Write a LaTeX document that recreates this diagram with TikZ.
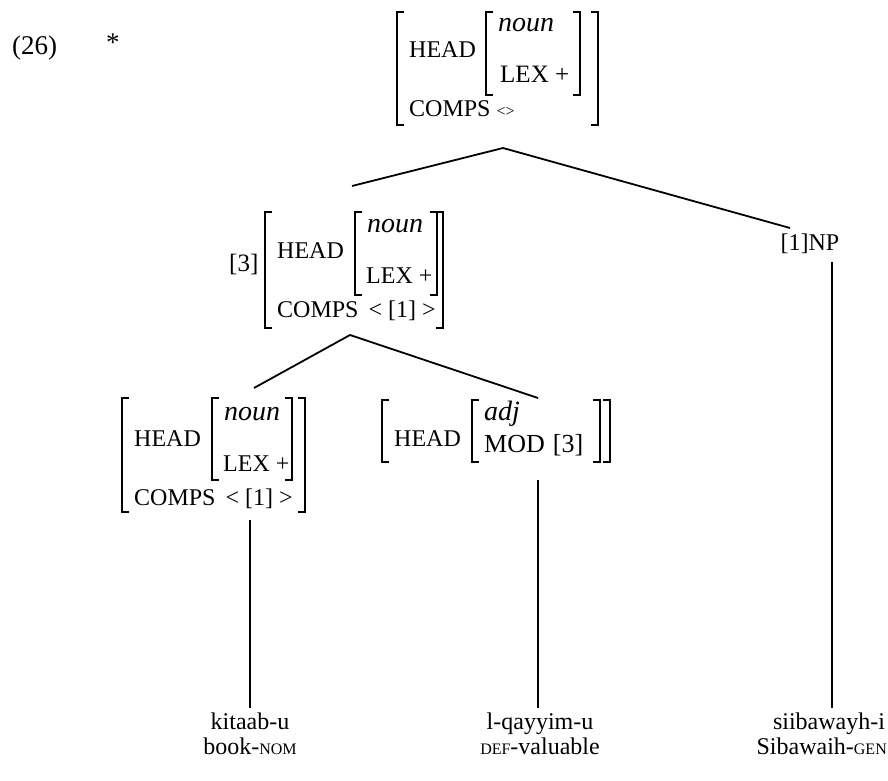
\documentclass[tikz,border=0pt]{standalone}
\usepackage{fontspec}
\setmainfont{Liberation Serif}
\newcommand\avmL[3]{\draw[brk] (#1+7,#2) -- (#1,#2) -- (#1,#3) -- (#1+7,#3);}
\newcommand\avmR[3]{\draw[brk] (#1-7,#2) -- (#1,#2) -- (#1,#3) -- (#1-7,#3);}
\newcommand\smc[1]{{\fontsize{16}{19}\selectfont #1}}
\newcommand\ital[1]{{\fontsize{28}{30}\selectfont\itshape #1}}
\begin{document}
\begin{tikzpicture}[x=1pt,y=-1pt,
  txt/.style={inner sep=0pt, anchor=base west, font=\fontsize{24}{28}\selectfont},
  ctr/.style={inner sep=0pt, anchor=base, font=\fontsize{24}{28}\selectfont},
  brk/.style={line width=1.2pt},
  edge/.style={line width=1.8pt}]
\useasboundingbox (0,0) rectangle (888,781);
% label
\node[txt, font=\fontsize{27}{30}\selectfont] (num) at (12,55) {(26)};
\node[txt, font=\fontsize{27}{30}\selectfont] (star) at (106,52) {*};
% top AVM
\avmL{397}{12}{125}
\node[txt] (h0) at (409,58) {HEAD};
\avmL{486}{12}{95}
\node[txt] (n0) at (498,32) {\ital{noun}};
\node[txt, font=\fontsize{25}{28}\selectfont] (l0) at (500,83) {LEX +};
\avmR{580}{12}{95}
\avmR{598}{12}{125}
\node[txt] (c0) at (409,117) {COMPS \smc{<>}};
% middle AVM
\node[txt, font=\fontsize{25}{28}\selectfont] (tag3) at (229,271) {[3]};
\avmL{265}{212}{328}
\node[txt] (h1) at (277,258) {HEAD};
\avmL{355}{212}{295}
\node[txt] (n1) at (367,232) {\ital{noun}};
\node[txt] (l1) at (366,283) {LEX +};
\avmR{437}{212}{295}
\avmR{443}{212}{328}
\node[txt] (c1) at (277,317) {COMPS \,< [1] >};
% NP
\node[ctr] (np) at (810,250) {[1]NP};
% bottom-left AVM
\avmL{122}{398}{512}
\node[txt] (h2) at (134,446) {HEAD};
\avmL{212}{398}{480}
\node[txt] (n2) at (224,420) {\ital{noun}};
\node[txt] (l2) at (223,471) {LEX +};
\avmR{292}{398}{480}
\avmR{305}{398}{512}
\node[txt] (c2) at (134,505) {COMPS \,< [1] >};
% bottom-middle AVM
\avmL{382}{400}{462}
\node[txt] (h3) at (394,446) {HEAD};
\avmL{472}{400}{462}
\node[txt] (n3) at (484,420) {\ital{adj}};
\node[txt, font=\fontsize{26}{28}\selectfont] (m3) at (484,452) {MOD\hspace{8pt}[3]};
\avmR{600}{400}{462}
\avmR{610}{400}{462}
% words
\node[ctr] (w1) at (250,729) {kitaab-u};
\node[ctr] (g1) at (250,754) {book-\smc{NOM}};
\node[ctr] (w2) at (540,729) {l-qayyim-u};
\node[ctr] (g2) at (540,754) {\smc{DEF}-valuable};
\node[ctr] (w3) at (829,729) {siibawayh-i};
\node[ctr, anchor=base east] (g3) at (887,754) {Sibawaih-\smc{GEN}};
% tree coordinates
\coordinate (a0) at (503,148);
\coordinate (a0l) at (352,186);
\coordinate (a0r) at (790,228);
\coordinate (a1) at (350,335);
\coordinate (a1l) at (254,388);
\coordinate (a1r) at (538,398);
\coordinate (s2) at (250,520);
\coordinate (e2) at (250,708);
\coordinate (s3) at (538,480);
\coordinate (e3) at (538,708);
\coordinate (s4) at (832,262);
\coordinate (e4) at (832,708);
\draw[edge] (a0l) -- (a0) -- (a0r);
\draw[edge] (a1l) -- (a1) -- (a1r);
\draw[edge] (s2) -- (e2);
\draw[edge] (s3) -- (e3);
\draw[edge] (s4) -- (e4);
\end{tikzpicture}
\end{document}
